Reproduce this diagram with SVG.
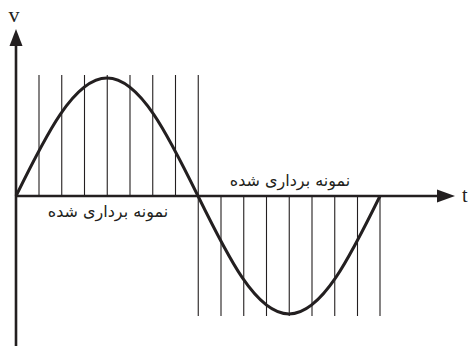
<svg xmlns="http://www.w3.org/2000/svg" width="468" height="346" viewBox="0 0 468 346">
<style>
.s{stroke:#231f20;stroke-width:1.1;fill:none}
.ax{stroke:#231f20;stroke-width:2.6;fill:none}
.w{stroke:#231f20;stroke-width:3;fill:none}
.ah{fill:#231f20}
.lt{font-family:"Liberation Serif",serif;fill:#231f20}
.fa{font-family:"DejaVu Sans",sans-serif;font-size:16px;fill:#231f20}
</style>
<g id="samples">
<path class="s" d="M39,75V196M61.75,75V196M84.5,75V196M107.25,75V196M130,75V196M152.75,75V196M175.5,75V196M198.25,75V196"/>
<path class="s" d="M198.25,196V316M221,196V316M243.75,196V316M266.5,196V316M289.25,196V316M312,196V316M334.75,196V316M357.5,196V316M380,196V316"/>
</g>
<g id="connectors">
<path class="ax" d="M16,346V42"/>
<polygon class="ah" points="16,29 9.5,46 22.5,46"/>
<path class="ax" d="M16,196H440"/>
<polygon class="ah" points="455,196 437,189.5 437,202.5"/>
</g>
<g id="wave">
<path class="w" d="M16,196C45.68,135.55 74.07,78 107,78C139.93,78 168.32,135.55 198,196C227.68,256.45 256.07,314 289,314C321.93,314 350.32,256.45 380,196"/>
</g>
<g id="labels">
<text class="lt" x="14" y="22" font-size="22" text-anchor="middle">v</text>
<text class="lt" x="462" y="202" font-size="20">t</text>
<text class="fa" x="108" y="217" text-anchor="middle" direction="rtl">نمونه برداری شده</text>
<text class="fa" x="290" y="186" text-anchor="middle" direction="rtl">نمونه برداری شده</text>
</g>
</svg>
